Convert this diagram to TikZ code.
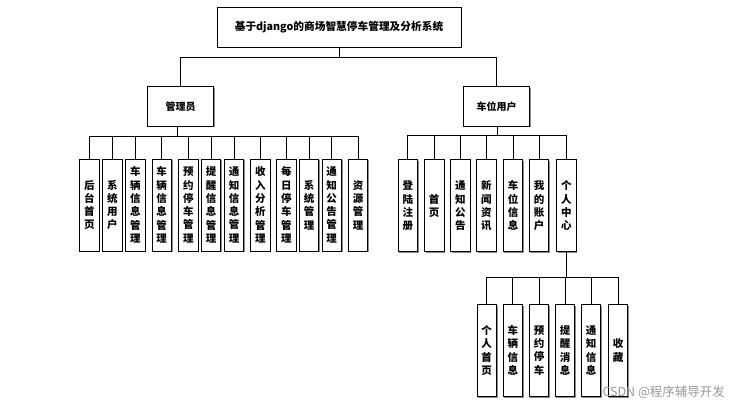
\documentclass[tikz,border=0pt]{standalone}
\usepackage{fontspec}
\setmainfont{Noto Sans CJK SC}
\usetikzlibrary{shadows}
\begin{document}
\begin{tikzpicture}[x=1pt,y=-1pt,
  box/.style={draw=black, line width=0.8pt, fill=white, inner sep=0pt,
    drop shadow={shadow xshift=1.2pt, shadow yshift=-1.2pt, fill=black!45, opacity=1}},
  topbox/.style={box, minimum width=244pt, minimum height=40pt, font=\bfseries\fontsize{10.7}{12}\selectfont},
  midbox/.style={box, minimum width=66pt, minimum height=39.5pt, font=\bfseries\fontsize{10}{12}\selectfont},
  leaf/.style={box, minimum width=19.5pt, minimum height=92pt, align=center, font=\bfseries\fontsize{10.5}{13.3}\selectfont},
  link/.style={draw=black, line width=0.8pt},
  wmark/.style={font=\fontsize{12.5}{13}\selectfont, text=black!40}
]
\useasboundingbox (0,0) rectangle (738,406);

\node[topbox] (root) at (339,27) {基于django的商场智慧停车管理及分析系统};
\node[midbox] (mgr) at (180.7,106.5) {管理员};
\node[midbox] (usr) at (496.7,106.3) {车位用户};

% admin leaves
\node[leaf] (a1) at (89.3,205) {后\\台\\首\\页};
\node[leaf] (a2) at (112.3,205) {系\\统\\用\\户};
\node[leaf] (a3) at (135.3,205) {车\\辆\\信\\息\\管\\理};
\node[leaf] (a4) at (161.7,205) {车\\辆\\信\\息\\管\\理};
\node[leaf] (a5) at (188.3,205) {预\\约\\停\\车\\管\\理};
\node[leaf] (a6) at (211,205) {提\\醒\\信\\息\\管\\理};
\node[leaf] (a7) at (234,205) {通\\知\\信\\息\\管\\理};
\node[leaf] (a8) at (260.3,205) {收\\入\\分\\析\\管\\理};
\node[leaf] (a9) at (286.3,205) {每\\日\\停\\车\\管\\理};
\node[leaf] (a10) at (309,205) {系\\统\\管\\理};
\node[leaf] (a11) at (331.7,205) {通\\知\\公\\告\\管\\理};
\node[leaf] (a12) at (358,205) {资\\源\\管\\理};

% user leaves
\node[leaf] (u1) at (407.8,205.8) {登\\陆\\注\\册};
\node[leaf] (u2) at (434.2,205.8) {首\\页};
\node[leaf] (u3) at (460.3,205.8) {通\\知\\公\\告};
\node[leaf] (u4) at (486.3,205.8) {新\\闻\\资\\讯};
\node[leaf] (u5) at (513,205.8) {车\\位\\信\\息};
\node[leaf] (u6) at (539,205.8) {我\\的\\账\\户};
\node[leaf] (u7) at (566.3,205.8) {个\\人\\中\\心};

% personal centre leaves
\node[leaf] (p1) at (486.7,350.5) {个\\人\\首\\页};
\node[leaf] (p2) at (512.8,350.5) {车\\辆\\信\\息};
\node[leaf] (p3) at (539,350.5) {预\\约\\停\\车};
\node[leaf] (p4) at (565,350.5) {提\\醒\\消\\息};
\node[leaf] (p5) at (591,350.5) {通\\知\\信\\息};
\node[leaf] (p6) at (618,350.5) {收\\藏};

% buses
\coordinate (busR) at (339,57.3);
\coordinate (busM) at (177.7,136.7);
\coordinate (busU) at (497.3,135);
\coordinate (busP) at (566.7,277.3);

\draw[link] (root.south) -- (busR);
\draw[link] (busR) -| (mgr.north);
\draw[link] (busR) -| (usr.north);

\draw[link] (mgr.south -| busM) -- (busM);
\foreach \n in {a1,a2,a3,a4,a5,a6,a7,a8,a9,a10,a11,a12}
  \draw[link] (busM) -| (\n.north);

\draw[link] (usr.south -| busU) -- (busU);
\foreach \n in {u1,u2,u3,u4,u5,u6,u7}
  \draw[link] (busU) -| (\n.north);

\draw[link] (u7.south -| busP) -- (busP);
\foreach \n in {p1,p2,p3,p4,p5,p6}
  \draw[link] (busP) -| (\n.north);

\node[wmark, anchor=west] (wm) at (599,392) {CSDN @程序辅导开发};
\end{tikzpicture}
\end{document}
